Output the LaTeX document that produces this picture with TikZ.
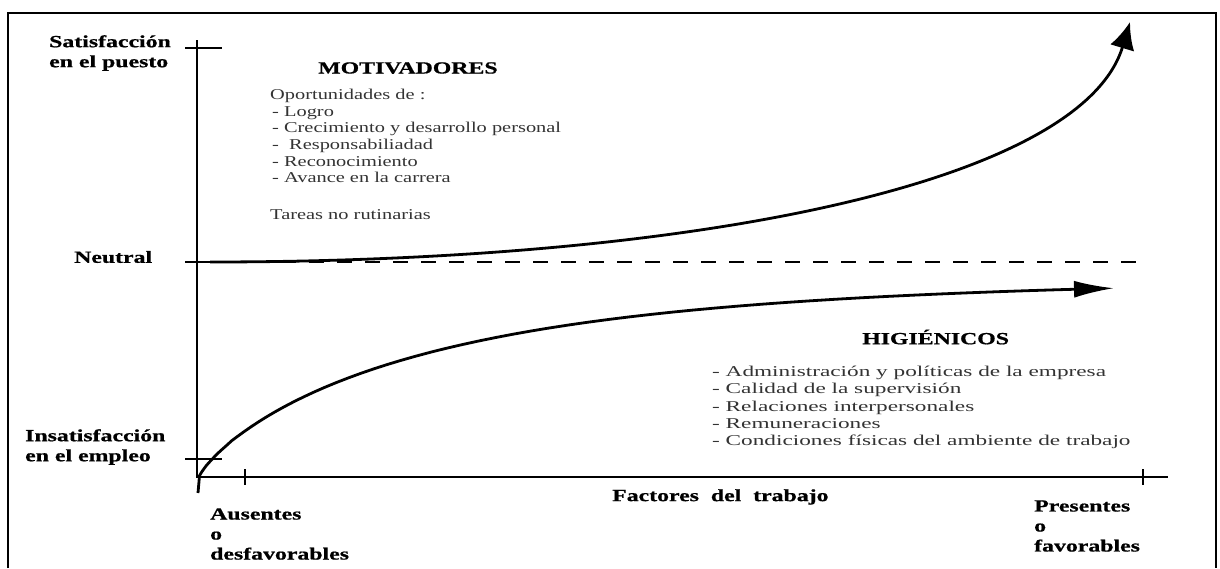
\documentclass[tikz,border=0pt]{standalone}
\usepackage{fontspec}
\setmainfont{Liberation Serif}
\newfontfamily\labelfont{Liberation Serif}[FakeStretch=1.4,BoldFeatures={FakeBold=0.8}]
\newfontfamily\motfont{Liberation Serif}[FakeStretch=1.36]
\newfontfamily\higfont{Liberation Serif}[FakeStretch=1.55]
\usetikzlibrary{arrows.meta,positioning}

\begin{document}
\begin{tikzpicture}[x=1pt,y=-1pt]
\tikzstyle{axis}=[line width=2.2pt]
\tikzstyle{tick}=[line width=1.4pt]
\tikzstyle{curve}=[line width=2.8pt]
\tikzstyle{lbl}=[inner sep=0pt,align=left,anchor=west,font={\labelfont\bfseries\fontsize{17}{20}\selectfont}]
\tikzstyle{motlist}=[inner sep=0pt,align=left,anchor=north west,text=black!80,font={\motfont\fontsize{15}{16.6}\selectfont}]
\tikzstyle{higlist}=[inner sep=0pt,align=left,anchor=north west,text=black!80,font={\higfont\fontsize{15}{17.3}\selectfont}]

\useasboundingbox (0,0) rectangle (1220,568);
\draw [line width=2pt] (8,568) -- (8,13) -- (1216,13) -- (1216,568);

\coordinate (O) at (197,477);
\coordinate (ytop) at (197,40);
\coordinate (xend) at (1168,477);
\coordinate (sat) at (197,48);
\coordinate (neu) at (197,262);
\coordinate (neuend) at (1145,262);
\coordinate (ins) at (197,459);
\coordinate (aus) at (245,477);
\coordinate (pre) at (1143,477);

\draw [axis] (ytop) -- (O) -- (xend);
\draw [tick] (sat) ++(-12,0) -- +(37,0);
\draw [tick] (neu) ++(-12,0) -- +(12,0);
\draw [tick] (ins) ++(-12,0) -- +(37,0);
\draw [tick] (aus) ++(0,-8) -- +(0,16);
\draw [tick] (pre) ++(0,-8) -- +(0,16);
\draw [line width=1.2pt,dash pattern=on 15pt off 13pt] (neu) -- (neuend);

\node (satlbl) [lbl] at (49,53) {Satisfacción\\en el puesto};
\node (neulbl) [lbl] at (74,257) {Neutral};
\node (inslbl) [lbl] at (25,447) {Insatisfacción\\en el empleo};
\node (auslbl) [lbl] at (210,534) {Ausentes\\o\\desfavorables};
\node (prelbl) [lbl] at (1034,526) {Presentes\\o\\favorables};
\node (factores) [lbl] at (612,497) {Factores\ \ del\ \ trabajo};

\node (motiv) [lbl] at (318,68) {MOTIVADORES};
\node (motlist) [motlist] at (270,89) {Oportunidades de :\\
\hspace{2pt}- Logro\\
\hspace{2pt}- Crecimiento y desarrollo personal\\
\hspace{2pt}-\ \ Responsabiliadad\\
\hspace{2pt}- Reconocimiento\\
\hspace{2pt}- Avance en la carrera};
\node (tareas) [motlist,anchor=west] at (270,215) {Tareas no rutinarias};

\node (higien) [lbl] at (862,337) {HIGIÉNICOS};
\node (higlist) [higlist] at (712,366) {- Administración y políticas de la empresa\\
- Calidad de la supervisión\\
- Relaciones interpersonales\\
- Remuneraciones\\
- Condiciones físicas del ambiente de trabajo};

% motivadores
\draw [curve,-{Latex[length=27pt,width=25pt]}] (210,262) .. controls (700,262) and (1082,182) .. (1130,22);
% higienicos
\draw [curve,-{Latex[length=40pt,width=17pt]}] (198,493) -- plot [domain=0.7:30.25,samples=60,variable=\t]
  ({199+\t*\t},{477-198*(1-exp(-((\t*\t/233)^0.82)))});
\end{tikzpicture}
\end{document}
